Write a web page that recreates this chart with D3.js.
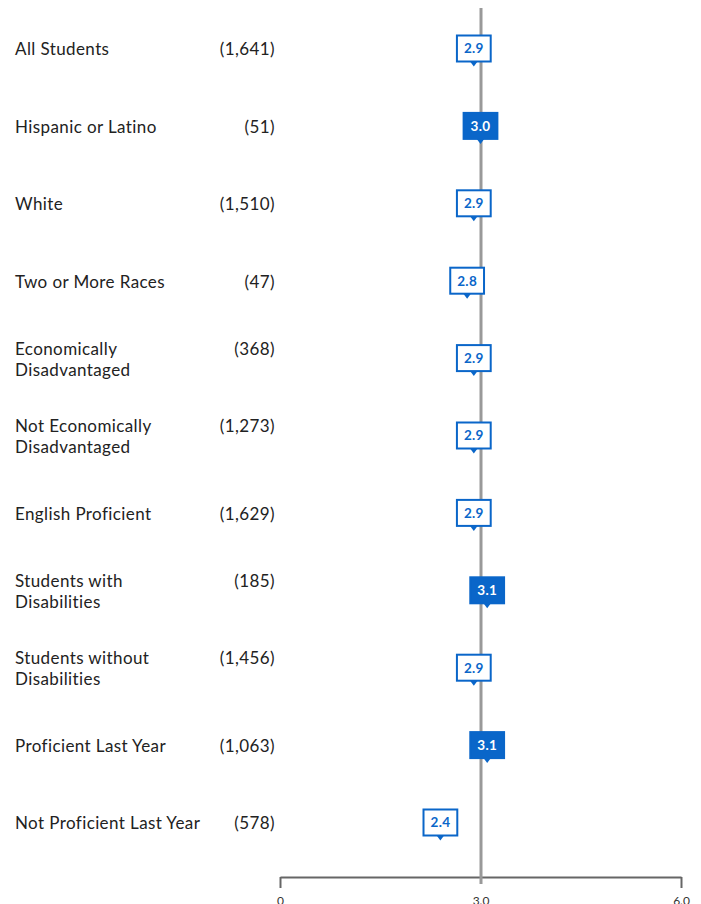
<!DOCTYPE html>
<html>
<head>
  <meta charset="utf-8">
  <style>
  body {
    margin: 0;
    background: #ffffff;
    font-family: Lato, "Open Sans", sans-serif;
  }
  .label, .count {
    font-size: 17px;
    letter-spacing: 0.4px;
    fill: #222222;
  }
  .axis text {
    font-size: 12px;
    fill: #333333;
    font-family: Lato, sans-serif;
  }
  .axis .domain, .axis line {
    stroke: #666666;
    stroke-width: 2px;
  }
  .marker text {
    font-size: 13.5px;
    font-weight: bold;
    letter-spacing: 0.3px;
  }
  </style>
</head>
<body>
  <div id="chart"></div>
  <script src="https://cdn.jsdelivr.net/npm/d3@7"></script>
  <script>
  // groups, sample sizes and mean scores
  var groups = ["All Students", "Hispanic or Latino", "White", "Two or More Races",
    "Economically\nDisadvantaged", "Not Economically\nDisadvantaged", "English Proficient",
    "Students with\nDisabilities", "Students without\nDisabilities", "Proficient Last Year",
    "Not Proficient Last Year"];
  var counts = ["1,641", "51", "1,510", "47", "368", "1,273", "1,629", "185", "1,456", "1,063", "578"];
  var scores = [2.9, 3.0, 2.9, 2.8, 2.9, 2.9, 2.9, 3.1, 2.9, 3.1, 2.4];
  var filled = [false, true, false, false, false, false, false, true, false, true, false];
  var axisTicks = [0, 3, 6];
  var reference = 3.0;

  var blue = "#0a66c9";
  var width = 701, height = 904;

  var svg = d3.select("#chart").append("svg")
      .attr("width", width)
      .attr("height", height);

  var x = d3.scaleLinear()
    .domain([0, 6])
    .range([280, 681]);

  var y = d3.scalePoint()
    .domain(d3.range(groups.length))
    .range([48.5, 822.5]);

  // axis
  var axisY = 877;
  var xAxis = d3.axisBottom(x)
    .tickValues(axisTicks)
    .tickSize(11)
    .tickSizeOuter(0)
    .tickPadding(8)
    .tickFormat(function(d){ return d === 0 ? "0" : d.toFixed(1); });

  var ax = svg.append("g")
      .attr("class", "axis")
      .attr("transform", "translate(0," + axisY + ")")
      .call(xAxis);
  ax.selectAll(".tick").filter(function(d){ return d === reference; }).select("line").remove();

  // reference line
  svg.append("line")
      .attr("x1", x(reference) + 0.5)
      .attr("x2", x(reference) + 0.5)
      .attr("y1", 8)
      .attr("y2", 884)
      .style("stroke", "#999999")
      .style("stroke-width", 3);

  var rows = svg.selectAll("g.row")
      .data(groups)
    .enter().append("g")
      .attr("class", "row");

  // group labels, can be two lines
  rows.each(function(d, i){
    var lines = d.split("\n");
    var lh = 21;
    var top = y(i) + 1 - (lines.length - 1) * lh / 2;
    var t = d3.select(this).append("text")
        .attr("class", "label")
        .attr("x", 15);
    lines.forEach(function(line, j){
      t.append("tspan")
        .attr("x", 15)
        .attr("y", top + j * lh)
        .attr("dy", "0.35em")
        .text(line);
    });
    d3.select(this).append("text")
        .attr("class", "count")
        .attr("x", 275)
        .attr("y", top)
        .attr("dy", "0.35em")
        .attr("text-anchor", "end")
        .text("(" + counts[i] + ")");
  });

  // markers
  var markers = svg.selectAll("g.marker")
      .data(scores)
    .enter().append("g")
      .attr("class", "marker")
      .attr("transform", function(d, i){ return "translate(" + x(d) + "," + y(i) + ")"; });

  markers.append("path")
      .attr("d", "M-4.5,12L4.5,12L0,18Z")
      .style("fill", blue);

  var rects = markers.append("rect")
      .attr("y", -13)
      .attr("height", 26)
      .style("fill", function(d, i){ return filled[i] ? blue : "#ffffff"; })
      .style("stroke", blue)
      .style("stroke-width", 2);

  var labels = markers.append("text")
      .attr("text-anchor", "middle")
      .attr("dy", "0.36em")
      .style("fill", function(d, i){ return filled[i] ? "#ffffff" : blue; })
      .text(function(d){ return d.toFixed(1); });

  labels.each(function(d, i){
    var w = this.getComputedTextLength() + 14;
    d3.select(rects.nodes()[i])
      .attr("x", -w / 2)
      .attr("width", w);
  });
  </script>
</body>
</html>
